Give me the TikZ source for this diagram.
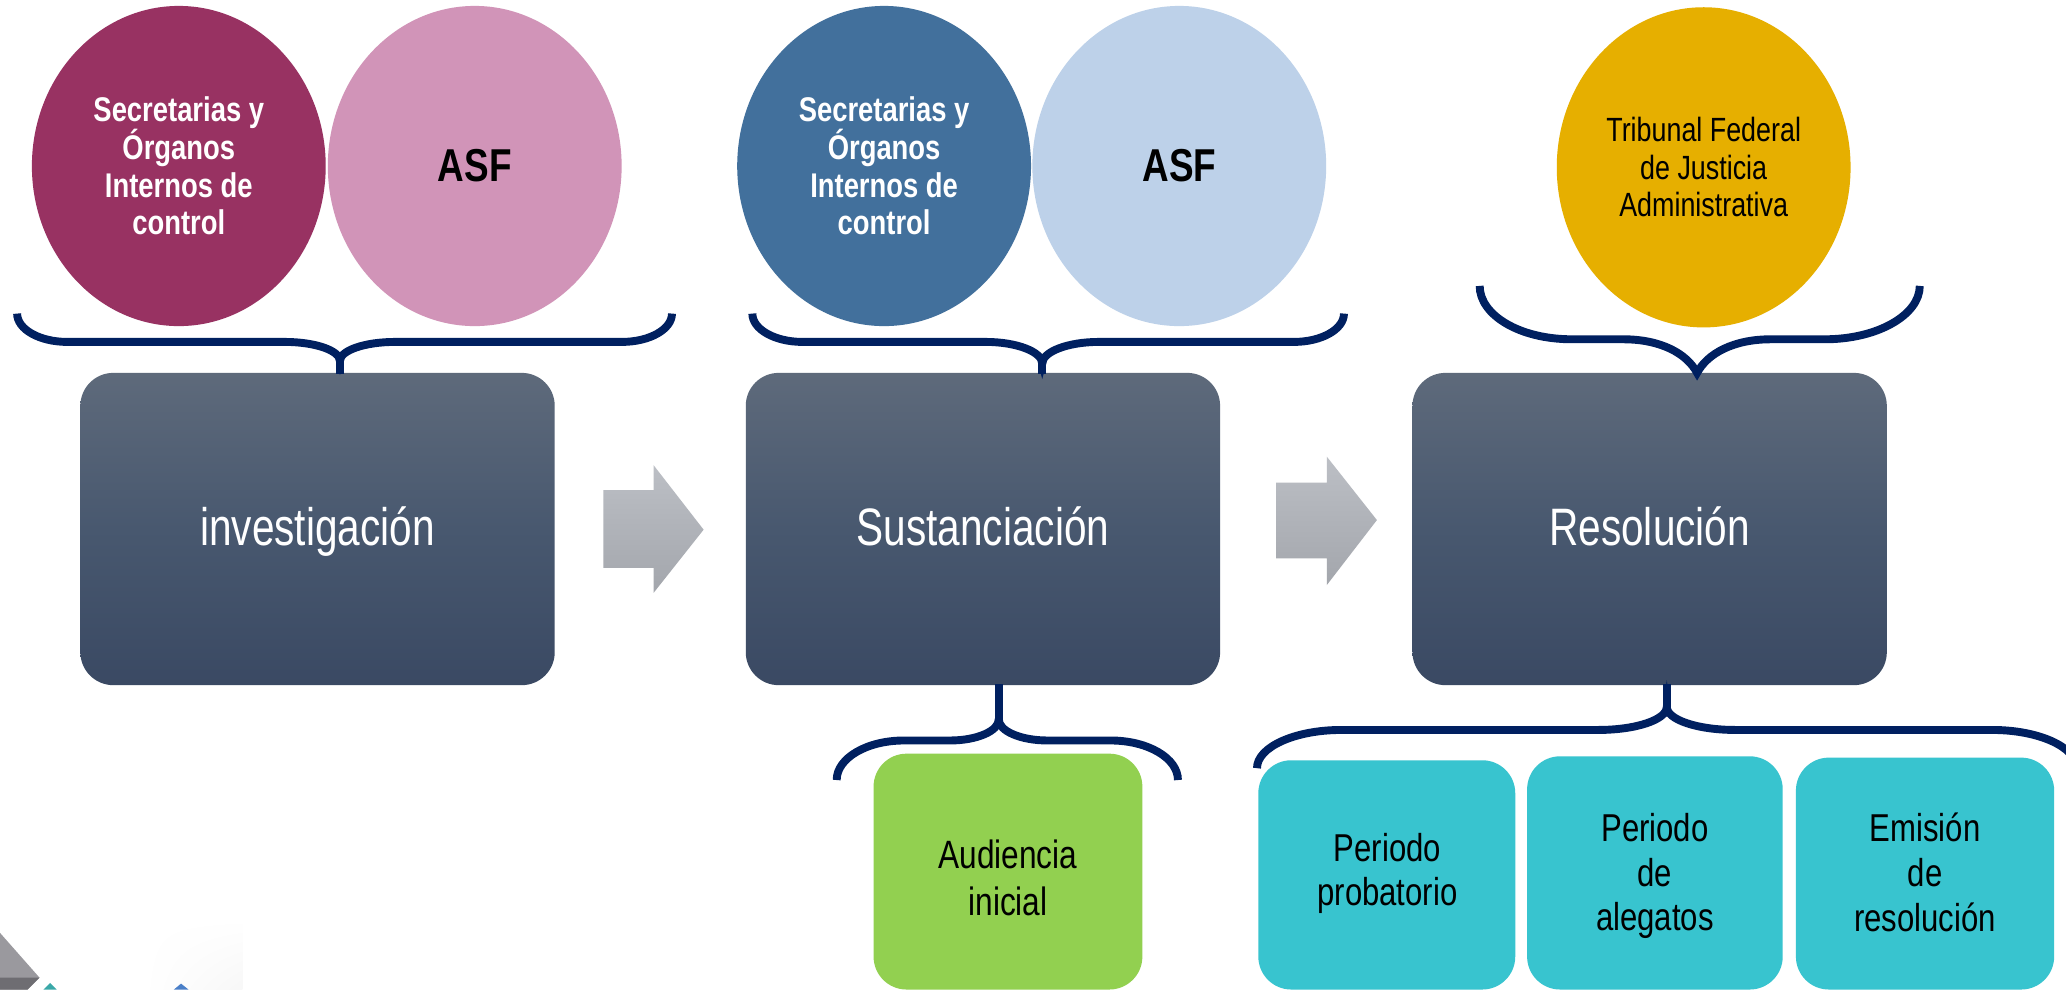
\documentclass[tikz,border=0pt]{standalone}
\usepackage{fontspec}
\setmainfont{Liberation Sans}
\newfontfamily\narrow[FakeStretch=0.8]{Liberation Sans}
\newfontfamily\narrowS[FakeStretch=0.77]{Liberation Sans}
\usetikzlibrary{shapes.geometric,shadings}
\definecolor{maroonc}{HTML}{983262}
\definecolor{pinkc}{HTML}{D194B8}
\definecolor{blueA}{HTML}{42709C}
\definecolor{blueB}{HTML}{BDD1E9}
\definecolor{goldc}{HTML}{E6AF00}
\definecolor{boxtop}{HTML}{5E6A7B}
\definecolor{boxmid}{HTML}{48586F}
\definecolor{boxbot}{HTML}{3A4963}
\definecolor{navy}{HTML}{002060}
\definecolor{greenc}{HTML}{92D050}
\definecolor{tealc}{HTML}{38C4CF}
\definecolor{arrtop}{HTML}{BCBFC5}
\definecolor{arrbot}{HTML}{A3A6AC}
\definecolor{decgray}{HTML}{9A999E}
\definecolor{decdark}{HTML}{6E6D72}
\definecolor{decteal}{HTML}{3AA8A8}
\definecolor{decblue}{HTML}{4A7FC8}
\begin{document}
\begin{tikzpicture}[x=1pt,y=-1pt,
  org/.style={ellipse, inner sep=0pt, minimum width=223pt, minimum height=243pt, align=center},
  orgbold/.style={font=\narrow\bfseries\fontsize{26}{28.5}\selectfont},
  orgreg/.style={font=\narrow\fontsize{25.5}{28.5}\selectfont},
  asf/.style={font=\narrow\bfseries\fontsize{35}{40}\selectfont, text=black},
  stage/.style={rectangle, rounded corners=25pt, minimum width=360pt, minimum height=237pt,
    top color=boxtop, bottom color=boxbot, middle color=boxmid, text=white,
    font=\narrowS\fontsize{40}{48}\selectfont, text height=29pt, text depth=4pt, inner sep=0pt},
  sub/.style={rectangle, rounded corners=25pt, inner sep=0pt, draw=none},
  subtxt/.style={anchor=north, inner sep=0pt, align=center, text=black},
  brace/.style={draw=navy, line width=6pt},
  blockarrow/.style={top color=arrtop, bottom color=arrbot, draw=none}
]
\useasboundingbox (0,0) rectangle (1568,751);
\clip (0,0) rectangle (1568,751);
\fill[white] (0,0) rectangle (1568,751);

% ---- top organisations
\node[org, fill=maroonc, text=white, orgbold] (s1) at (135.7,126) {Secretarias y\\Órganos\\Internos de\\control};
\node[org, fill=pinkc, asf] (asf1) at (360.3,126) {ASF};
\node[org, fill=blueA, text=white, orgbold] (s2) at (671,126) {Secretarias y\\Órganos\\Internos de\\control};
\node[org, fill=blueB, asf] (asf2) at (895,126) {ASF};
\node[org, fill=goldc, text=black, orgreg] (tfja) at (1293,127) {Tribunal Federal\\de Justicia\\Administrativa};

% ---- stages
\node[stage] (inv) at (241,401.5) {investigación};
\node[stage] (sus) at (746,401.5) {Sustanciación};
\node[stage] (res) at (1252,401.5) {Resolución};

% ---- sub stages
\node[sub, fill=greenc, minimum width=204pt, minimum height=179pt] (aud) at (765,661.5) {};
\node[sub, fill=tealc, minimum width=195pt, minimum height=174pt] (pp) at (1052.5,664) {};
\node[sub, fill=tealc, minimum width=194pt, minimum height=177pt] (pa) at (1256,662.5) {};
\node[sub, fill=tealc, minimum width=196pt, minimum height=176pt] (er) at (1461,663) {};
\node[subtxt, font=\narrow\fontsize{30}{35}\selectfont] (audt) at (765,637.5) {Audiencia\\inicial};
\node[subtxt, font=\narrow\fontsize{29.5}{34}\selectfont] (ppt) at (1053,632) {Periodo\\probatorio};
\node[subtxt, font=\narrow\fontsize{29.5}{34}\selectfont] (pat) at (1256,617) {Periodo\\de\\alegatos};
\node[subtxt, font=\narrow\fontsize{29.5}{34}\selectfont] (ert) at (1461,617) {Emisión\\de\\resolución};

% ---- block arrows
\path[blockarrow] (458,372) -- (496,372) -- (496,353) -- (534,402) -- (496,450) -- (496,431) -- (458,431) -- cycle;
\path[blockarrow] (968.5,366.3) -- (1007,366.3) -- (1007,346.6) -- (1045,394.7) -- (1007,444) -- (1007,423.8) -- (968.5,423.8) -- cycle;

% ---- braces (top)
\coordinate (b1) at (258,274);
\draw[brace] (13,238) .. controls (13,249.9) and (30,259.5) .. (51,259.5) -- (216,259.5)
  .. controls (239.2,259.5) and (258,266) .. (b1)
  .. controls (258,266) and (276.8,259.5) .. (300,259.5) -- (472,259.5)
  .. controls (493,259.5) and (510,249.9) .. (510,238);
\draw[brace] (b1) -- (258,283.5);

\coordinate (b2) at (791,276);
\draw[brace] (571,238) .. controls (571,249.9) and (588,259.5) .. (609,259.5) -- (748,259.5)
  .. controls (771.7,259.5) and (791,267) .. (b2)
  .. controls (791,267) and (810.3,259.5) .. (834,259.5) -- (982,259.5)
  .. controls (1003,259.5) and (1020,249.9) .. (1020,238);
\draw[brace] (b2) -- (791,283.5);

\coordinate (b3) at (1288,283);
\draw[brace] (1123,217) .. controls (1123,239) and (1153,257.5) .. (1193,257.5) -- (1232,257.5)
  .. controls (1260,257.5) and (1280,268) .. (b3)
  .. controls (1296,268) and (1316,257.5) .. (1344,257.5) -- (1385,257.5)
  .. controls (1425,257.5) and (1457,239) .. (1457,217);

% ---- braces (bottom)
\coordinate (b4) at (758,546);
\draw[brace] (635,592) .. controls (635,575.4) and (657.8,562) .. (686,562) -- (721,562)
  .. controls (741.4,562) and (758,554.8) .. (b4)
  .. controls (758,554.8) and (774.6,562) .. (795,562) -- (843,562)
  .. controls (871.2,562) and (894,575.4) .. (894,592);
\draw[brace] (b4) -- (758,519.5);

\coordinate (b5) at (1265,536.5);
\draw[brace] (954,583) .. controls (954,567) and (982.7,554) .. (1018,554) -- (1213,554)
  .. controls (1241.7,554) and (1265,546.2) .. (b5)
  .. controls (1265,546.2) and (1288.3,554) .. (1317,554) -- (1512,554)
  .. controls (1547.3,554) and (1576,567) .. (1576,583);
\draw[brace] (b5) -- (1265,519.5);

% ---- corner decoration
\shade[upper left=white, lower right=black!3, upper right=white, lower left=white] (108.7,697) rectangle (184,751);
\fill[decgray] (0,708) -- (30,742) -- (21,751) -- (0,751) -- cycle;
\fill[decdark] (0,742) -- (30,742) -- (21,751) -- (0,751) -- cycle;
\fill[decteal] (33,751) -- (38,746) -- (43,751) -- cycle;
\fill[decblue] (132,751) -- (137.4,746.5) -- (143,751) -- cycle;
\end{tikzpicture}
\end{document}
